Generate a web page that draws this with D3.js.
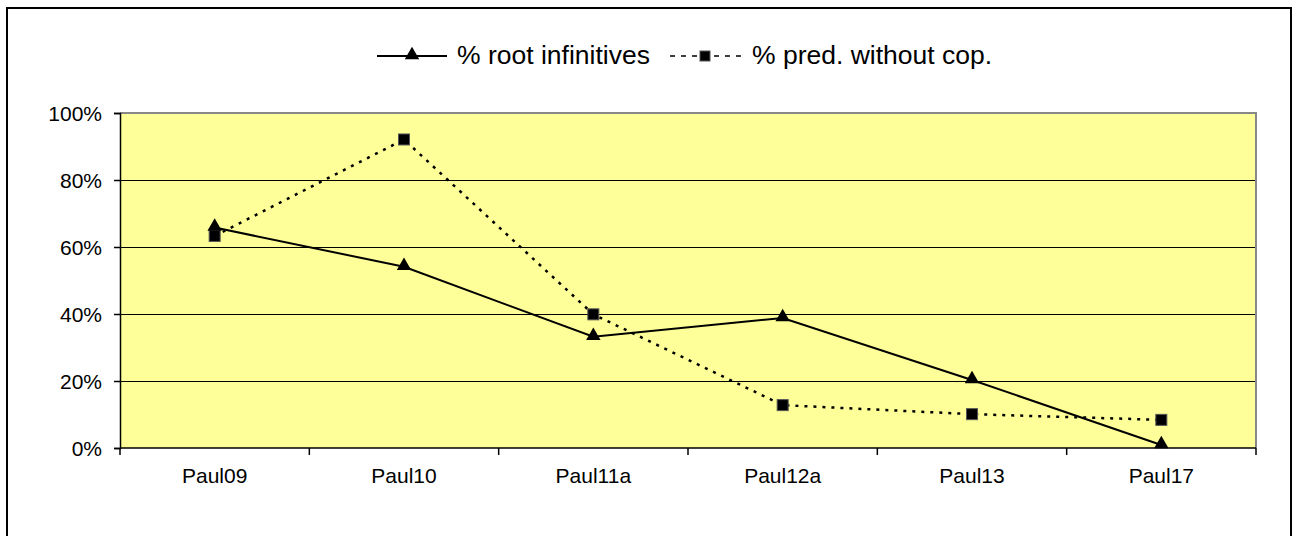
<!DOCTYPE html>
<html>
<head>
<meta charset="utf-8">
<script src="https://cdn.jsdelivr.net/npm/d3@7"></script>
<style>
  body { margin: 0; background: #fff; }
  text { font-family: "Liberation Sans", Arial, sans-serif; fill: #000; }
</style>
</head>
<body>
<script>
// data
var categories = ["Paul09", "Paul10", "Paul11a", "Paul12a", "Paul13", "Paul17"];
var rootInf = [65.8, 54.1, 33.2, 38.8, 20.3, 0.9];
var predNoCop = [63.3, 92.1, 39.9, 12.8, 10.1, 8.4];
var yTicks = [0, 20, 40, 60, 80, 100];
var seriesNames = ["% root infinitives", "% pred. without cop."];

var width = 1292,
    height = 536;

var svg = d3.select("body")
    .append("svg")
    .attr("width", width)
    .attr("height", height);

// outer frame
svg.append("rect")
    .attr("x", 7).attr("y", 8)
    .attr("width", 1284).attr("height", 540)
    .attr("fill", "none")
    .attr("stroke", "#000")
    .attr("stroke-width", 2);

var plotL = 120, plotR = 1256, plotT = 113, plotB = 448;

var x = d3.scaleBand()
    .domain(categories)
    .range([plotL, plotR]);

var y = d3.scaleLinear()
    .domain([0, 100])
    .range([plotB, plotT]);

// plot area
svg.append("rect")
    .attr("x", plotL).attr("y", plotT)
    .attr("width", plotR - plotL).attr("height", plotB - plotT)
    .attr("fill", "#FFFF99");

// grid lines
svg.append("g")
    .attr("shape-rendering", "crispEdges")
    .selectAll("line")
    .data(yTicks.filter(function(d){ return d > 0 && d < 100; }))
    .enter()
    .append("line")
    .attr("x1", plotL).attr("x2", plotR)
    .attr("y1", function(d){ return y(d) + 0.5; })
    .attr("y2", function(d){ return y(d) + 0.5; })
    .attr("stroke", "#000")
    .attr("stroke-width", 1);

// grey top and right edges
svg.append("path")
    .attr("d", "M" + plotL + "," + plotT + "H" + plotR + "V" + plotB)
    .attr("fill", "none")
    .attr("stroke", "#888")
    .attr("stroke-width", 2);

// y axis
var yAxis = svg.append("g")
    .attr("transform", "translate(" + plotL + ",0)")
    .call(d3.axisLeft(y).tickValues(yTicks).tickSize(6).tickPadding(12)
        .tickFormat(function(d){ return d + "%"; }));
yAxis.selectAll("text").style("font-size", "21px").attr("dy", "0.36em");
yAxis.selectAll("line").attr("stroke-width", 1.5);
yAxis.select(".domain").attr("stroke-width", 1.5);

// x axis with ticks between categories
var xAxis = svg.append("g")
    .attr("transform", "translate(0," + plotB + ")");
xAxis.append("line")
    .attr("x1", plotL).attr("x2", plotR)
    .attr("stroke", "#000").attr("stroke-width", 1.5);
xAxis.selectAll(".tk")
    .data(categories.concat(["end"]))
    .enter()
    .append("line")
    .attr("class", "tk")
    .attr("x1", function(d, i){ return plotL + i * x.bandwidth(); })
    .attr("x2", function(d, i){ return plotL + i * x.bandwidth(); })
    .attr("y1", 0).attr("y2", 7)
    .attr("stroke", "#000").attr("stroke-width", 1.5);
xAxis.selectAll(".lbl")
    .data(categories)
    .enter()
    .append("text")
    .attr("class", "lbl")
    .attr("x", function(d){ return x(d) + x.bandwidth() / 2; })
    .attr("y", 35)
    .attr("text-anchor", "middle")
    .style("font-size", "21px")
    .text(function(d){ return d; });

var cx = function(d, i){ return x(categories[i]) + x.bandwidth() / 2; };

var line = d3.line()
    .x(cx)
    .y(function(d){ return y(d); });

var tri = d3.symbol().type(d3.symbolTriangle).size(90);

// series 1: solid with triangles
svg.append("path")
    .datum(rootInf)
    .attr("d", line)
    .attr("fill", "none")
    .attr("stroke", "#000")
    .attr("stroke-width", 2);

// series 2: dotted with squares
svg.append("path")
    .datum(predNoCop)
    .attr("d", line)
    .attr("fill", "none")
    .attr("stroke", "#000")
    .attr("stroke-width", 2.5)
    .attr("stroke-dasharray", "3,6");

svg.selectAll(".sq")
    .data(predNoCop)
    .enter()
    .append("rect")
    .attr("class", "sq")
    .attr("x", function(d, i){ return cx(d, i) - 5.5; })
    .attr("y", function(d){ return y(d) - 5.5; })
    .attr("width", 11).attr("height", 11)
    .attr("fill", "#000")
    .attr("stroke", "#555")
    .attr("stroke-width", 1);

svg.selectAll(".tri")
    .data(rootInf)
    .enter()
    .append("path")
    .attr("class", "tri")
    .attr("d", tri)
    .attr("transform", function(d, i){ return "translate(" + cx(d, i) + "," + (y(d) - 1) + ")"; })
    .attr("fill", "#000");

// legend
var lg = svg.append("g");
lg.append("line")
    .attr("x1", 377).attr("x2", 447).attr("y1", 56).attr("y2", 56)
    .attr("stroke", "#000").attr("stroke-width", 2);
lg.append("path")
    .attr("d", tri)
    .attr("transform", "translate(412,55)");
lg.append("text")
    .attr("x", 457).attr("y", 64)
    .style("font-size", "26.5px")
    .text(seriesNames[0]);
lg.append("line")
    .attr("x1", 670).attr("x2", 741).attr("y1", 56).attr("y2", 56)
    .attr("stroke", "#000").attr("stroke-width", 1.5)
    .attr("stroke-dasharray", "5,6");
lg.append("rect")
    .attr("x", 700).attr("y", 51).attr("width", 10).attr("height", 10)
    .attr("fill", "#000").attr("stroke", "#555");
lg.append("text")
    .attr("x", 752).attr("y", 64)
    .style("font-size", "26.5px")
    .text(seriesNames[1]);
</script>
</body>
</html>
